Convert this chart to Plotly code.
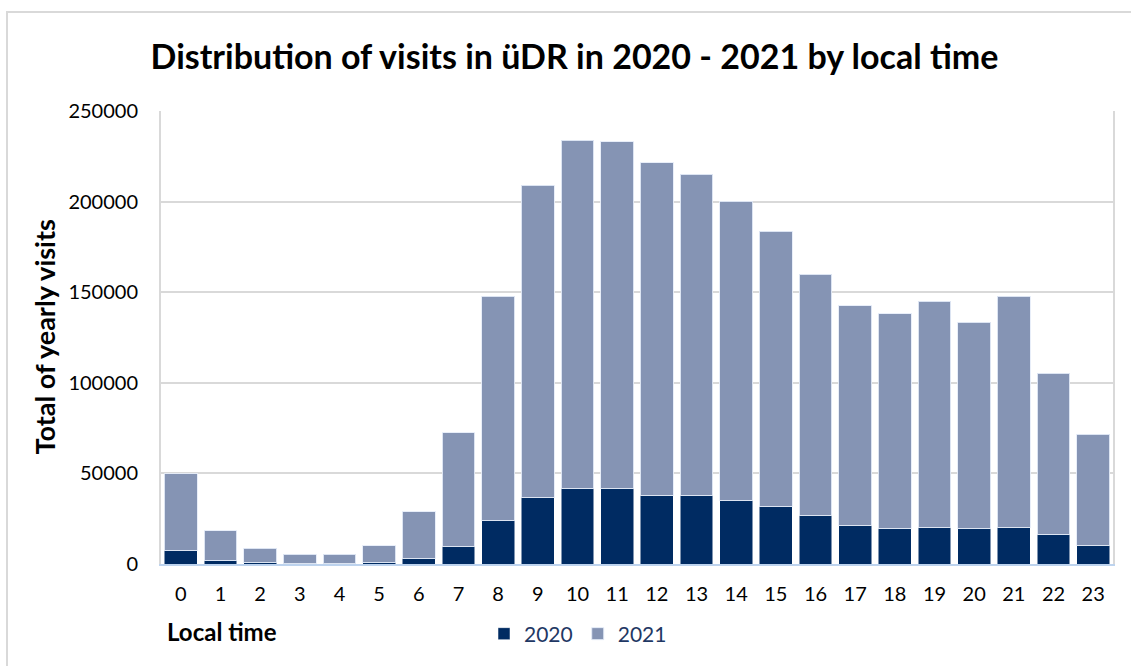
import plotly.graph_objects as go

hours = [str(h) for h in range(24)]
visits_2020 = [7500, 1900, 1000, 300, 300, 800, 3200, 9800, 24200, 36600, 41900, 41900,
               38000, 37700, 35300, 31600, 27000, 21500, 19800, 20000, 19800, 20200, 16100, 10400]
visits_2021 = [42200, 16400, 7700, 4950, 5100, 9400, 25600, 62700, 123600, 172400, 191900, 191000,
               183500, 177500, 164900, 152000, 132900, 121000, 118400, 124900, 113700, 127600, 89100, 61100]
y_ticks = [0, 50000, 100000, 150000, 200000, 250000]

FONT = "Lato"
W, H = 1131, 666
L, R, T, B = 161, 18, 111, 102
pw, ph = W - L - R, H - T - B

def px(x):
    return (x - L) / pw

def py(y):
    return (H - B - y) / ph

fig = go.Figure()
fig.add_trace(go.Bar(x=hours, y=visits_2020, name="2020", marker_color="#002b62",
                     marker_line=dict(color="rgba(255,255,255,0.5)", width=1)))
fig.add_trace(go.Bar(x=hours, y=visits_2021, name="2021", marker_color="#8594b4",
                     marker_line=dict(color="rgba(230,236,248,0.9)", width=1)))

fig.update_layout(
    width=W, height=H, barmode="stack", bargap=0.17,
    margin=dict(l=L, r=R, t=T, b=B),
    paper_bgcolor="white", plot_bgcolor="white",
    font=dict(family=FONT, color="#000000", size=20),
    title=dict(text="<b>Distribution of visits in üDR in 2020 - 2021 by local time</b>",
               x=574.5 / W, xanchor="center", y=1 - 57 / H, yanchor="middle",
               font=dict(family=FONT, size=34, color="#000000")),
    legend=dict(orientation="h", traceorder="normal", x=px(484), xanchor="left",
                y=py(634), yanchor="middle", itemwidth=30,
                font=dict(family=FONT, size=21, color="#1f3864"), bgcolor="rgba(0,0,0,0)"),
    showlegend=True,
)
fig.update_xaxes(type="category", showgrid=False, showline=True, linecolor="#bdd3ee", linewidth=2,
                 ticks="", tickfont=dict(size=20, color="#000000"), ticklabelstandoff=11)
fig.update_yaxes(range=[0, 250000], tickvals=y_ticks, ticktext=[str(v) for v in y_ticks],
                 showgrid=True, gridcolor="#d9d9d9", gridwidth=2, zeroline=False,
                 showline=True, linecolor="#d9d9d9", linewidth=2, mirror=True,
                 ticks="", tickfont=dict(size=20, color="#000000"), ticklabelstandoff=17)

fig.add_annotation(text="<b>Total of yearly visits</b>", xref="paper", yref="paper",
                   x=px(44), y=0.5, xanchor="center", yanchor="middle", textangle=-90,
                   showarrow=False, font=dict(family=FONT, size=27, color="#000000"))
fig.add_annotation(text="<b>Local time</b>", xref="paper", yref="paper",
                   x=px(165), y=py(631), xanchor="left", yanchor="middle",
                   showarrow=False, font=dict(family=FONT, size=24, color="#000000"))

fig.add_shape(type="rect", xref="paper", yref="paper",
              x0=px(7), x1=px(1140), y0=py(675), y1=py(12),
              line=dict(color="#d9d9d9", width=2), fillcolor="rgba(0,0,0,0)", layer="below")

fig.write_html("out.html")
